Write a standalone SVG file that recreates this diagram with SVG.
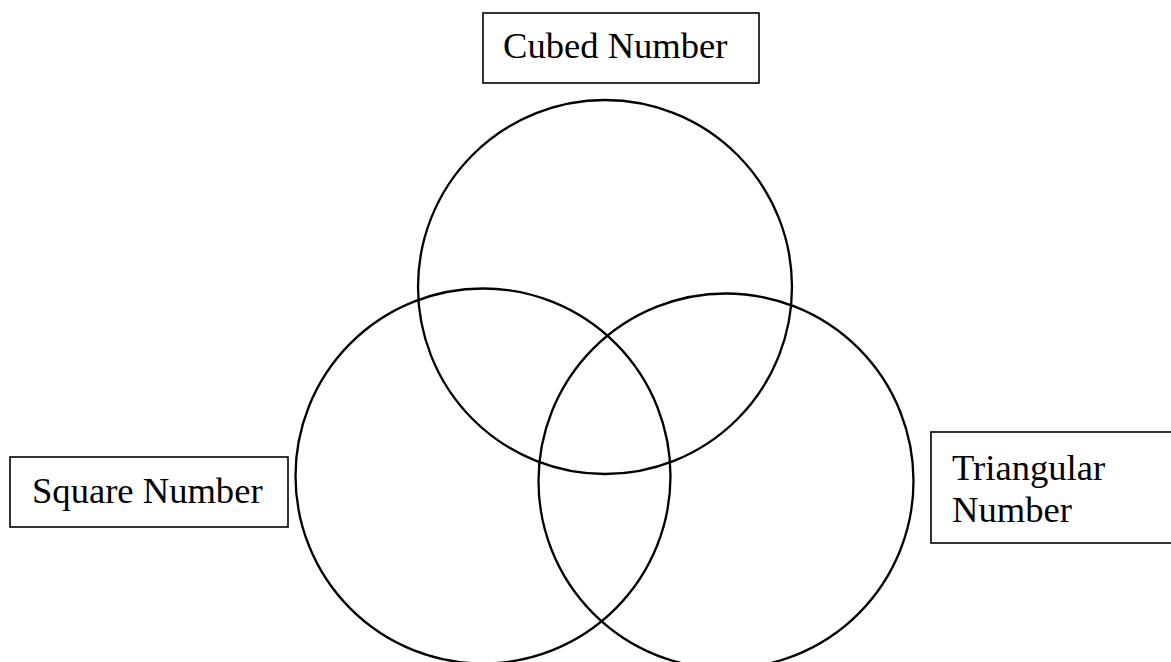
<svg xmlns="http://www.w3.org/2000/svg" width="1171" height="662" viewBox="0 0 1171 662">
<style>
.c{fill:none;stroke:#000;stroke-width:2.3}
.b{fill:#fff;stroke:#000;stroke-width:1.6}
.t{font-family:"Liberation Serif","Times New Roman",serif;font-size:36.6px;fill:#000}
</style>
<rect width="1171" height="662" fill="#fff"/>
<g id="circles">
<circle id="cubed-circle" class="c" cx="605" cy="287" r="187"/>
<circle id="square-circle" class="c" cx="483" cy="476" r="187.5"/>
<circle id="triangular-circle" class="c" cx="726" cy="481" r="187.5"/>
</g>
<g id="cubed-label">
<rect class="b" x="483" y="13" width="276" height="70"/>
<text class="t" x="503" y="58">Cubed Number</text>
</g>
<g id="square-label">
<rect class="b" x="10" y="457" width="278" height="70"/>
<text class="t" x="32" y="503">Square Number</text>
</g>
<g id="triangular-label">
<rect class="b" x="931" y="432" width="245" height="111"/>
<text class="t" x="952" y="480">Triangular</text>
<text class="t" x="952" y="522">Number</text>
</g>
</svg>
